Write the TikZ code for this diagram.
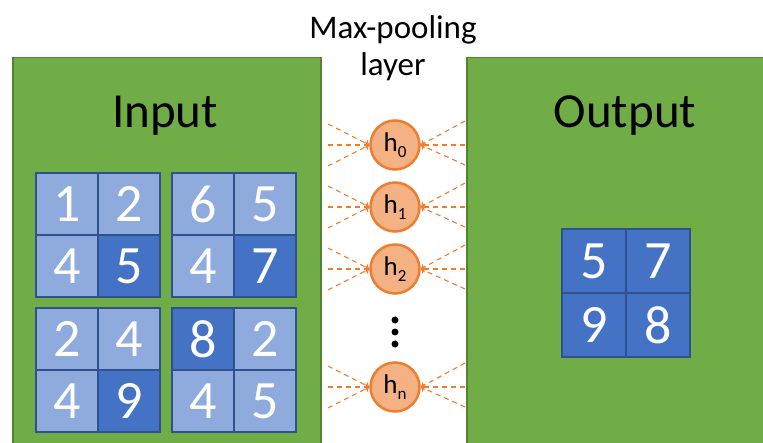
\documentclass[tikz,border=0pt]{standalone}
\usepackage{fontspec}
\setmainfont{Carlito}
\usetikzlibrary{arrows.meta}
\definecolor{grn}{HTML}{70AD47}
\definecolor{grnb}{HTML}{548235}
\definecolor{lb}{HTML}{8FAADC}
\definecolor{db}{HTML}{4472C4}
\definecolor{bb}{HTML}{2F528F}
\definecolor{orf}{HTML}{F4B183}
\definecolor{orb}{HTML}{ED7D31}
\begin{document}
\begin{tikzpicture}[x=1pt,y=-1pt,
  panel/.style={fill=grn,draw=grnb,line width=1.5pt,inner sep=0pt,anchor=north west},
  cell/.style={draw=bb,line width=2.5pt,minimum size=62pt,inner sep=0pt,text=white,font=\fontsize{54}{54}\selectfont},
  lcell/.style={cell,fill=lb},
  dcell/.style={cell,fill=db},
  ocell/.style={cell,fill=db,minimum size=64pt},
  neuron/.style={circle,draw=orb,fill=orf,line width=2.5pt,minimum size=49pt,inner sep=0pt,font=\fontsize{27}{27}\selectfont},
  conn/.style={draw=orb,line width=1.1pt,dash pattern=on 5pt off 4pt,-{To[length=4pt,width=7pt]}},
  paneltitle/.style={font=\fontsize{49}{49}\selectfont,anchor=base},
  layertitle/.style={font=\fontsize{33}{33}\selectfont,anchor=base}]
\useasboundingbox (0,0) rectangle (763,443);
\clip (0,0) rectangle (763,443);
\fill[white] (0,0) rectangle (763,443);
% panels
\node[panel,minimum width=308pt,minimum height=400pt] (inpanel) at (12,57) {};
\node[panel,minimum width=310pt,minimum height=400pt] (outpanel) at (466,57) {};
\node[paneltitle] (intitle) at (165,128) {Input};
\node[paneltitle] (outtitle) at (625,128) {Output};
\node[layertitle] (lt1) at (393,39) {Max-pooling};
\node[layertitle] (lt2) at (393,76) {layer};
% input blocks
\node[lcell] (a11) at (67,204) {1};
\node[lcell] (a12) at (129,204) {2};
\node[lcell] (a21) at (67,266) {4};
\node[dcell] (a22) at (129,266) {5};
\node[lcell] (b11) at (203,204) {6};
\node[lcell] (b12) at (265,204) {5};
\node[lcell] (b21) at (203,266) {4};
\node[dcell] (b22) at (265,266) {7};
\node[lcell] (c11) at (67,339) {2};
\node[lcell] (c12) at (129,339) {4};
\node[lcell] (c21) at (67,401) {4};
\node[dcell] (c22) at (129,401) {9};
\node[dcell] (d11) at (203,339) {8};
\node[lcell] (d12) at (265,339) {2};
\node[lcell] (d21) at (203,401) {4};
\node[lcell] (d22) at (265,401) {5};
% output block
\node[ocell] (o11) at (594,261) {5};
\node[ocell] (o12) at (658,261) {7};
\node[ocell] (o21) at (594,325) {9};
\node[ocell] (o22) at (658,325) {8};
% neurons and connectors
\foreach \n/\y in {0/145,1/207,2/269,n/387}{
  \node[neuron] (h\n) at (395,\y) {h\raisebox{-6pt}{\fontsize{17}{17}\selectfont \n}};
  \coordinate (la\n) at (328,\y-21);
  \coordinate (lb\n) at (328,\y);
  \coordinate (lc\n) at (328,\y+21);
  \coordinate (ra\n) at (465,\y-24);
  \coordinate (rb\n) at (465,\y);
  \coordinate (rc\n) at (465,\y+20);
  \draw[conn] (la\n) -- (h\n.west);
  \draw[conn] (lb\n) -- (h\n.west);
  \draw[conn] (lc\n) -- (h\n.west);
  \draw[conn] (ra\n) -- (h\n.east);
  \draw[conn] (rb\n) -- (h\n.east);
  \draw[conn] (rc\n) -- (h\n.east);
}
% vertical dots
\fill (395,320) circle (3.5pt);
\fill (395,332) circle (3.5pt);
\fill (395,344) circle (3.5pt);
\end{tikzpicture}
\end{document}
